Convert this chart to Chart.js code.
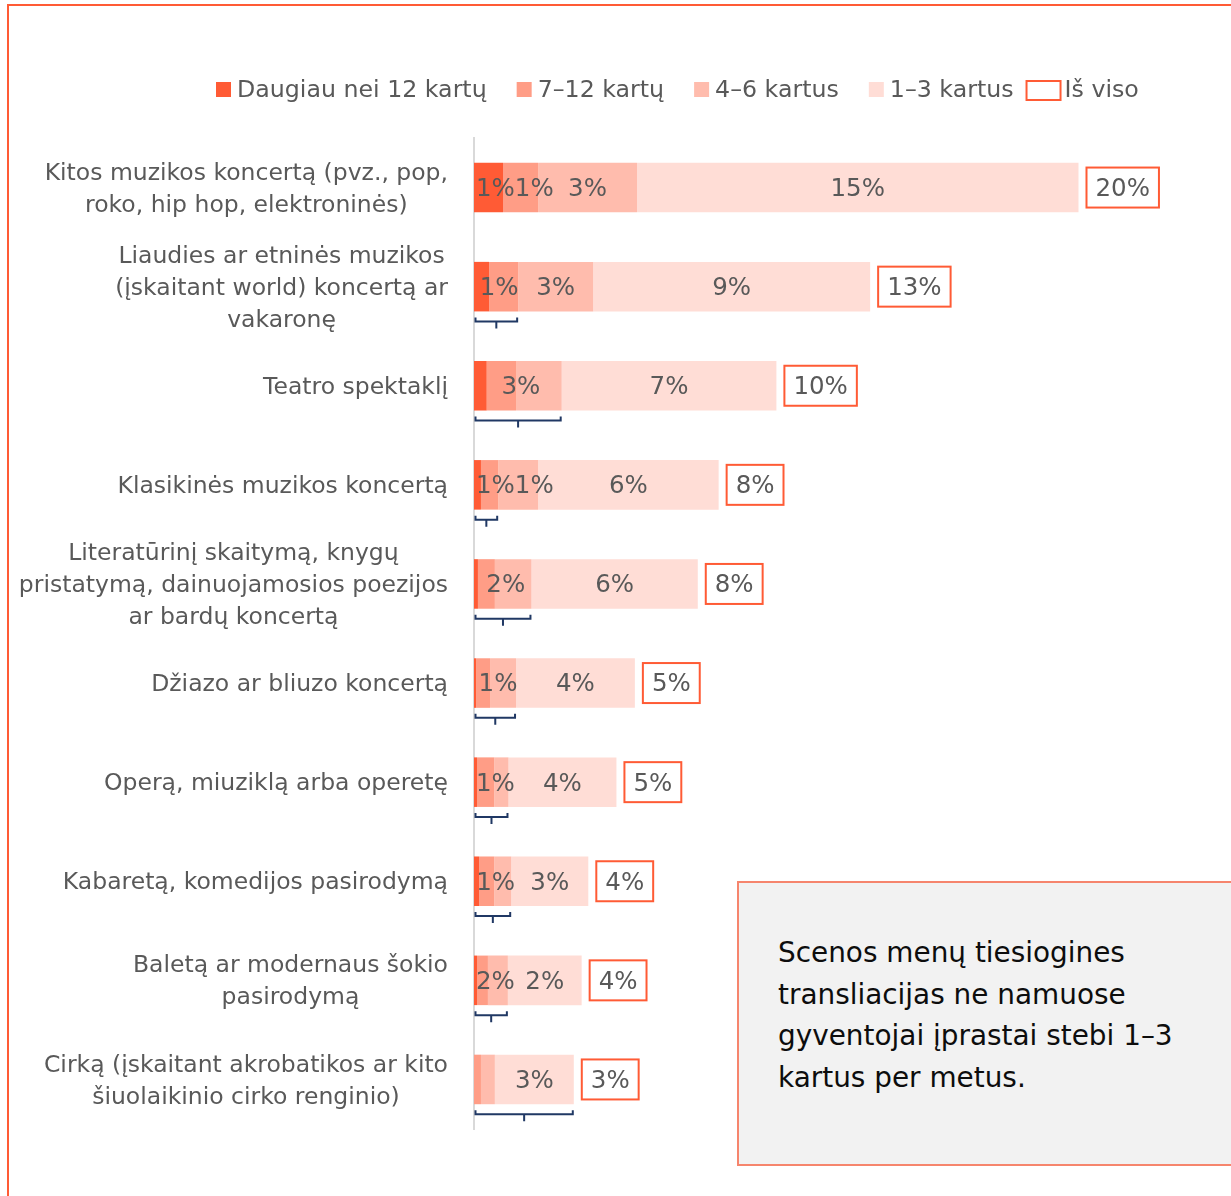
<!DOCTYPE html>
<html>
<head>
<meta charset="utf-8">
<script src="https://cdn.jsdelivr.net/npm/chart.js@4.4.0/dist/chart.umd.min.js"></script>
<style>
  body { margin: 0; background: #fff; }
  #wrap { position: relative; width: 1231px; height: 1196px; overflow: hidden; }
  #frame { position: absolute; left: 7px; top: 4px; width: 1400px; height: 1400px;
           border-top: 2px solid #FF5B35; border-left: 2px solid #FF5B35; }
  #myChart { position: absolute; left: 0; top: 0; }
  #note { position: absolute; left: 737px; top: 881px; width: 560px; height: 285px;
          background: #f2f2f2; border: 2px solid #F6856D; box-sizing: border-box; }
  #note p { position: absolute; left: 39px; top: 49px; margin: 0;
            font: 27.9px "DejaVu Sans", sans-serif;
            line-height: 41.5px; color: #0d0d0d; white-space: nowrap; }
</style>
</head>
<body>
<div id="wrap">
  <div id="frame"></div>
  <canvas id="myChart" width="1231" height="1196"></canvas>
  <div id="note"><p>Scenos menų tiesiogines<br>transliacijas ne namuose<br>gyventojai įprastai stebi 1–3<br>kartus per metus.</p></div>
</div>
<script>
// data (percent)
const categories = [
  ['Kitos muzikos koncertą (pvz., pop,', 'roko, hip hop, elektroninės)'],
  ['Liaudies ar etninės muzikos', '(įskaitant world) koncertą ar', 'vakaronę'],
  ['Teatro spektaklį'],
  ['Klasikinės muzikos koncertą'],
  ['Literatūrinį skaitymą, knygų', 'pristatymą, dainuojamosios poezijos', 'ar bardų koncertą'],
  ['Džiazo ar bliuzo koncertą'],
  ['Operą, miuziklą arba operetę'],
  ['Kabaretą, komedijos pasirodymą'],
  ['Baletą ar modernaus šokio', 'pasirodymą'],
  ['Cirką (įskaitant akrobatikos ar kito', 'šiuolaikinio cirko renginio)']
];
const seriesNames = ['Daugiau nei 12 kartų', '7–12 kartų', '4–6 kartus', '1–3 kartus'];
const more12 = [0.96, 0.50, 0.42, 0.23, 0.13, 0.07, 0.10, 0.17, 0.10, 0.00];
const times7to12 = [1.16, 0.96, 0.97, 0.57, 0.56, 0.46, 0.57, 0.50, 0.36, 0.23];
const times4to6 = [3.27, 2.48, 1.51, 1.32, 1.21, 0.86, 0.47, 0.56, 0.66, 0.46];
const times1to3 = [14.60, 9.16, 7.10, 5.97, 5.50, 3.93, 3.57, 2.55, 2.44, 2.61];
const totalLabels = ['20%', '13%', '10%', '8%', '8%', '5%', '5%', '4%', '4%', '3%'];
const totalName = 'Iš viso';

// labels printed inside segments
const more12Labels = ['1%', '', '', '', '', '', '', '', '', ''];
const times7to12Labels = ['1%', '', '', '', '', '', '', '', '', ''];
const times4to6Labels = ['3%', '3%', '', '1%', '', '', '', '', '', ''];
const times1to3Labels = ['15%', '9%', '7%', '6%', '6%', '4%', '4%', '3%', '2%', '3%'];
// bracketed groups: number of segments under the brace and its label
const groupSpan = [0, 2, 3, 2, 3, 3, 3, 3, 3, 4];
const groupLabels = ['', '1%', '3%', '1%', '2%', '1%', '1%', '1%', '2%', ''];

const colors = ['#FF5B35', '#FF9D86', '#FFBCAD', '#FFDDD6'];
const FONT = '"DejaVu Sans", sans-serif';
const FSIZE = 23.5;
const VSIZE = 24.5;
const TEXT = '#595959';

const segLabels = [more12Labels, times7to12Labels, times4to6Labels, times1to3Labels];

const overlay = {
  id: 'overlay',
  afterDatasetsDraw(chart) {
    const ctx = chart.ctx;
    const area = chart.chartArea;
    const metas = [0, 1, 2, 3].map(d => chart.getDatasetMeta(d));
    ctx.save();
    ctx.textBaseline = 'middle';

    categories.forEach((lines, i) => {
      const bar = metas[0].data[i];
      const y = bar.y;
      const h = bar.height;

      // category label, lines centered in a right aligned block
      ctx.font = FSIZE + 'px ' + FONT;
      ctx.fillStyle = TEXT;
      const blockW = Math.max(...lines.map(l => ctx.measureText(l).width));
      const cx = area.left - 26 - blockW / 2;
      ctx.textAlign = 'center';
      lines.forEach((l, k) => {
        ctx.fillText(l, cx, y + 2 + (k - (lines.length - 1) / 2) * 32);
      });

      // value labels inside the bar
      ctx.font = VSIZE + 'px ' + FONT;
      const items = [];
      const span = groupSpan[i];
      if (span > 0 && groupLabels[i]) {
        items.push({ text: groupLabels[i], x: (bar.base + metas[span - 1].data[i].x) / 2 + 3 });
      }
      for (let d = 0; d < 4; d++) {
        const el = metas[d].data[i];
        if (segLabels[d][i]) items.push({ text: segLabels[d][i], x: (el.base + el.x) / 2 });
      }
      let minLeft = bar.base + 2;
      items.forEach(it => {
        const w = ctx.measureText(it.text).width;
        let x = it.x;
        if (x - w / 2 < minLeft) x = minLeft + w / 2;
        ctx.fillText(it.text, x, y + 2);
        minLeft = x + w / 2;
      });

      // brace under grouped segments
      if (span > 0) {
        const x0 = bar.base + 1.5;
        const x1 = metas[span - 1].data[i].x - 1;
        const yb = y + h / 2 + 10;
        const xm = (x0 + x1) / 2;
        ctx.strokeStyle = '#203864';
        ctx.lineWidth = 2;
        ctx.beginPath();
        ctx.moveTo(x0, yb - 4);
        ctx.lineTo(x0, yb);
        ctx.lineTo(x1, yb);
        ctx.lineTo(x1, yb - 4);
        ctx.moveTo(xm, yb);
        ctx.lineTo(xm, yb + 7);
        ctx.stroke();
      }

      // total box
      const end = metas[3].data[i].x;
      const tw = ctx.measureText(totalLabels[i]).width;
      const bx = end + 8;
      const bw = tw + 18;
      ctx.strokeStyle = '#FF5B35';
      ctx.lineWidth = 2;
      ctx.strokeRect(bx, y - 20, bw, 40);
      ctx.fillStyle = TEXT;
      ctx.fillText(totalLabels[i], bx + bw / 2, y + 2);
    });
    ctx.restore();
  },
  afterDraw(chart) {
    // legend
    const ctx = chart.ctx;
    ctx.save();
    ctx.font = '23.7px ' + FONT;
    ctx.textBaseline = 'middle';
    ctx.textAlign = 'left';
    const ly = 90;
    let x = 216;
    seriesNames.forEach((name, d) => {
      ctx.fillStyle = colors[d];
      ctx.fillRect(x, ly - 8, 15, 15);
      ctx.fillStyle = TEXT;
      ctx.fillText(name, x + 21, ly + 1);
      x += 21 + ctx.measureText(name).width + 30;
    });
    x -= 18;
    ctx.strokeStyle = '#FF5B35';
    ctx.lineWidth = 2;
    ctx.strokeRect(x + 1, ly - 9, 34, 19);
    ctx.fillStyle = TEXT;
    ctx.fillText(totalName, x + 39, ly + 1);
    ctx.restore();
  }
};

const data = {
  labels: categories.map(c => c.join(' ')),
  datasets: [more12, times7to12, times4to6, times1to3].map((vals, d) => ({
    label: seriesNames[d],
    data: vals,
    backgroundColor: colors[d],
    borderWidth: 0,
    barPercentage: 0.5,
    categoryPercentage: 1
  }))
};

const config = {
  type: 'bar',
  data: data,
  options: {
    indexAxis: 'y',
    responsive: false,
    animation: false,
    layout: { padding: { left: 8, top: 138, bottom: 67, right: 1 } },
    scales: {
      x: { stacked: true, min: 0, max: 25, display: false },
      y: {
        stacked: true,
        grid: { display: false },
        ticks: { display: false },
        border: { display: true, color: '#d9d9d9', width: 2 },
        afterFit(scale) { scale.width = 466; }
      }
    },
    plugins: { legend: { display: false }, tooltip: { enabled: false } }
  },
  plugins: [overlay]
};

const myChart = new Chart(document.getElementById('myChart'), config);
</script>
</body>
</html>
